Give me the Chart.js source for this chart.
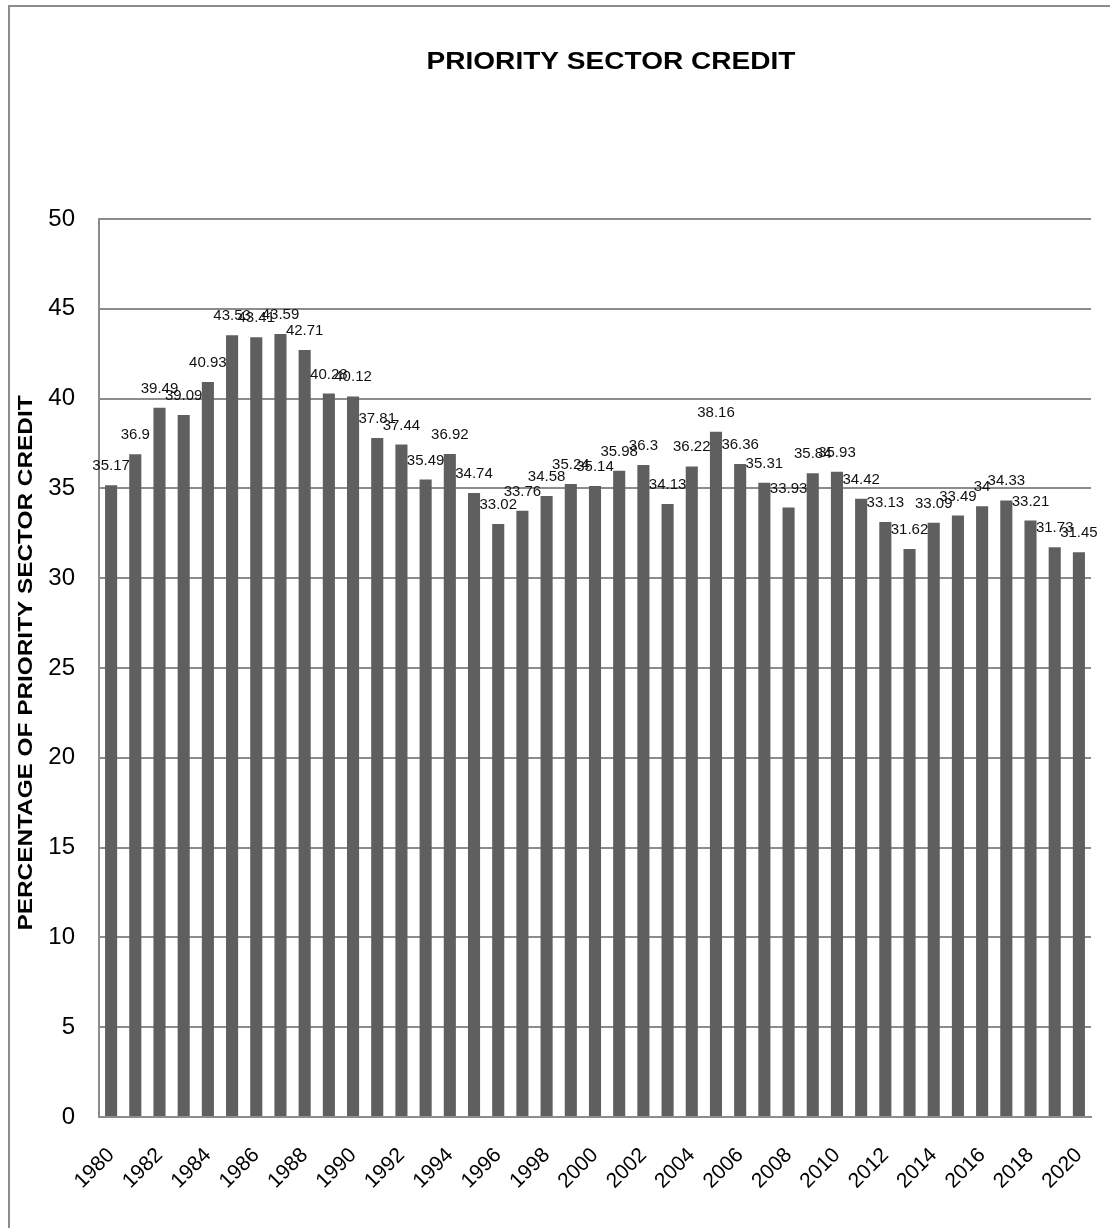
<!DOCTYPE html>
<html lang="en">
<head>
    <meta charset="UTF-8">
    <title>Priority Sector Credit</title>
    <script src="https://cdn.jsdelivr.net/npm/chart.js"></script>
    <style>
        html, body {
            margin: 0;
            padding: 0;
            background: #fff;
            overflow: hidden;
        }
        .frame {
            position: absolute;
            left: 8px;
            top: 5px;
            width: 1200px;
            height: 1300px;
            border: 2px solid #8c8c8c;
        }
        .chart-box {
            position: absolute;
            left: 0;
            top: 0;
            width: 1110px;
            height: 1228px;
        }
    </style>
</head>
<body>
    <div class="frame"></div>
    <div class="chart-box">
        <canvas id="psChart" width="1110" height="1228"></canvas>
    </div>

    <script>
        // Years on the x axis
        const years = [
            1980, 1981, 1982, 1983, 1984, 1985, 1986, 1987, 1988, 1989,
            1990, 1991, 1992, 1993, 1994, 1995, 1996, 1997, 1998, 1999,
            2000, 2001, 2002, 2003, 2004, 2005, 2006, 2007, 2008, 2009,
            2010, 2011, 2012, 2013, 2014, 2015, 2016, 2017, 2018, 2019, 2020
        ];

        // Priority sector credit, % share
        const creditShare = [
            35.17, 36.9, 39.49, 39.09, 40.93, 43.53, 43.41, 43.59, 42.71, 40.28,
            40.12, 37.81, 37.44, 35.49, 36.92, 34.74, 33.02, 33.76, 34.58, 35.24,
            35.14, 35.98, 36.3, 34.13, 36.22, 38.16, 36.36, 35.31, 33.93, 35.84,
            35.93, 34.42, 33.13, 31.62, 33.09, 33.49, 34, 34.33, 33.21, 31.73, 31.45
        ];

        const FONT = 'Arial, "Liberation Sans", sans-serif';

        // draw text stretched along its own direction (headings are wide)
        function wideText(ctx, text, x, y, angle, stretch) {
            ctx.save();
            ctx.translate(x, y);
            ctx.rotate(angle);
            ctx.scale(stretch, 1);
            ctx.fillText(text, 0, 0);
            ctx.restore();
        }

        // Value labels above each bar, plus the title and the vertical axis title
        const textPlugin = {
            id: 'textPlugin',
            afterDatasetsDraw(chart) {
                const ctx = chart.ctx;
                const meta = chart.getDatasetMeta(0);
                ctx.save();
                ctx.fillStyle = '#111';
                ctx.font = '15px ' + FONT;
                ctx.textAlign = 'center';
                ctx.textBaseline = 'alphabetic';
                meta.data.forEach((bar, i) => {
                    ctx.fillText(String(creditShare[i]), bar.x, bar.y - 15);
                });

                ctx.fillStyle = '#000';
                ctx.font = 'bold 23px ' + FONT;
                wideText(ctx, 'PRIORITY SECTOR CREDIT', 611, 69, 0, 1.22);

                const area = chart.chartArea;
                ctx.font = 'bold 21px ' + FONT;
                ctx.textBaseline = 'middle';
                wideText(ctx, 'PERCENTAGE OF PRIORITY SECTOR CREDIT', 26,
                    (area.top + area.bottom) / 2 - 5, -Math.PI / 2, 1.16);
                ctx.restore();
            }
        };

        new Chart(document.getElementById('psChart'), {
            type: 'bar',
            data: {
                labels: years.map(String),
                datasets: [{
                    data: creditShare,
                    backgroundColor: '#5f5f5f',
                    borderWidth: 0,
                    barPercentage: 0.5,
                    categoryPercentage: 1.0
                }]
            },
            options: {
                responsive: false,
                animation: false,
                layout: {
                    padding: { top: 219, right: 19, bottom: 0, left: 0 }
                },
                plugins: {
                    legend: { display: false },
                    title: { display: false },
                    tooltip: { enabled: false }
                },
                scales: {
                    x: {
                        afterFit(scale) {
                            scale.height = 111;
                            // rotated year labels hang left only; no extra room on the right
                            scale.paddingLeft = 0;
                            scale.paddingRight = 0;
                        },
                        grid: { display: false, drawTicks: false },
                        border: { display: true, color: '#8c8c8c', width: 2 },
                        ticks: {
                            autoSkip: false,
                            maxRotation: 45,
                            minRotation: 45,
                            padding: 26,
                            color: '#000',
                            font: { size: 21, family: FONT },
                            callback(value, index) {
                                return index % 2 === 0 ? this.getLabelForValue(value) : '';
                            }
                        }
                    },
                    y: {
                        min: 0,
                        max: 50,
                        afterFit(scale) { scale.width = 99; },
                        grid: { color: '#8c8c8c', lineWidth: 2, drawTicks: false },
                        border: { display: true, color: '#8c8c8c', width: 2 },
                        ticks: {
                            stepSize: 5,
                            padding: 24,
                            color: '#000',
                            font: { size: 24, family: FONT }
                        }
                    }
                }
            },
            plugins: [textPlugin]
        });
    </script>
</body>
</html>
